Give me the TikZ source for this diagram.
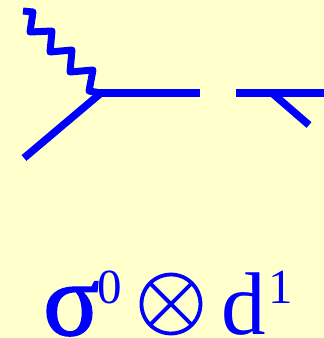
\documentclass[tikz,border=0pt]{standalone}
\usepackage{fontspec}
\setmainfont{Liberation Serif}
\newfontfamily\fatsig[FakeBold=1.6]{Liberation Serif}
\definecolor{bg}{HTML}{FFFFCC}
\definecolor{ink}{HTML}{0000FF}
\tikzset{
  x=1pt,y=-1pt,
  thick line/.style={draw=ink,line width=7.5pt},
  wave line/.style={draw=ink,line width=7pt,line join=round},
  big/.style={text=ink,inner sep=0pt,anchor=base west,font=\fontsize{89}{89}\selectfont},
  small/.style={text=ink,inner sep=0pt,anchor=base west,font=\fontsize{49}{49}\selectfont},
}
\begin{document}
\begin{tikzpicture}
\path[fill=bg] (0,0) rectangle (324,338);
\useasboundingbox (0,0) rectangle (324,338);
\coordinate (v) at (101,93);
\coordinate (wstart) at (23,11);
\coordinate (inp) at (24,158);
\coordinate (gapl) at (200,93);
\coordinate (gapr) at (236,93);
\coordinate (right) at (324,93);
\coordinate (br) at (272,93);
\coordinate (brend) at (309,125);
\draw[wave line] (wstart) -- (33,12) -- (30,32) -- (52,31) -- (50,52) -- (72,50) -- (70,72) -- (93,70) -- (89,91) -- (v);
\draw[thick line] (inp) -- (v);
\draw[thick line] (99,93) -- (gapl);
\draw[thick line] (gapr) -- (right);
\draw[thick line] (br) -- (brend);
\node[big,font=\fontsize{104}{104}\fatsig] (s) at (43,335) {σ};
\node[small] (z) at (97,303) {0};
\node[text=ink,inner sep=0pt,anchor=center,scale=9.2,transform shape,font=\normalsize] (o) at (171,304) {\special{pdf:code 2 Tr 0.16 w}$\otimes$\special{pdf:code 0 Tr}};
\node[big] (d) at (221,334) {d};
\node[small] (one) at (268,303) {1};
\end{tikzpicture}
\end{document}
